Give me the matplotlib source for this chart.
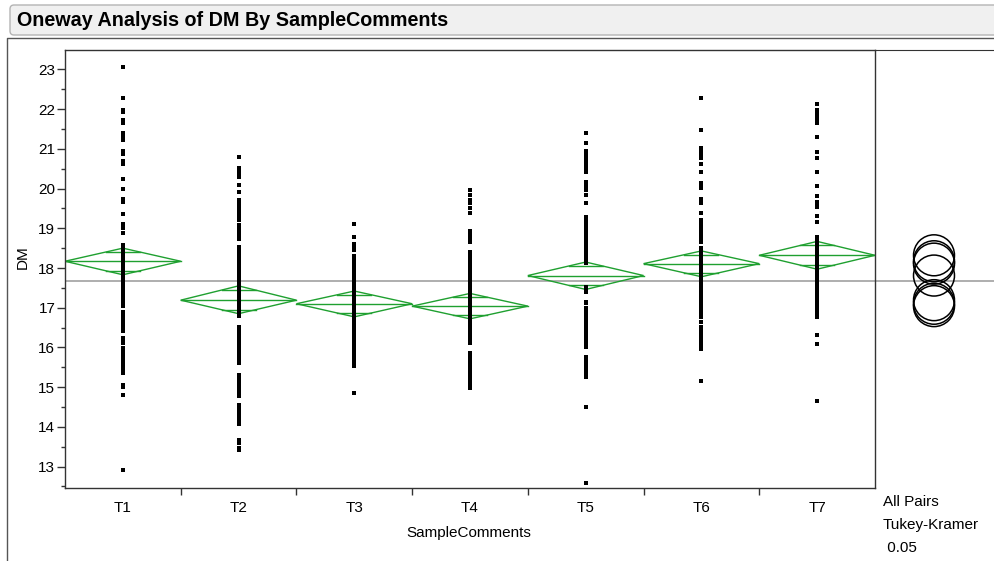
import matplotlib
matplotlib.use("Agg")
import numpy as np
import matplotlib.pyplot as plt
from matplotlib.patches import FancyBboxPatch, Polygon
from matplotlib.lines import Line2D
from matplotlib.ticker import MultipleLocator
from matplotlib.transforms import IdentityTransform

plt.rcParams['font.family'] = ['Liberation Sans', 'DejaVu Sans']

# ---- data ----
categories = ['T1', 'T2', 'T3', 'T4', 'T5', 'T6', 'T7']

t1 = [23.05, 22.29, 21.99, 21.93, 21.72, 21.66, 21.39, 21.30, 21.22, 20.95, 20.87,
      20.69, 20.61, 20.24, 19.98, 19.74, 19.67, 19.36, 19.11, 19.00, 18.87,
      18.58, 18.51, 18.44, 18.37, 18.30, 18.23, 18.16, 18.09, 18.02, 17.95, 17.88,
      17.81, 17.74, 17.67, 17.60, 17.53, 17.46, 17.39, 17.32, 17.25, 17.18, 17.11,
      17.04, 16.90, 16.83, 16.76, 16.69, 16.62, 16.55, 16.48, 16.41, 16.23, 16.16,
      16.10, 15.98, 15.91, 15.84, 15.77, 15.70, 15.63, 15.56, 15.49, 15.42, 15.35,
      15.06, 15.01, 14.80, 12.92]
t2 = [20.79, 20.51, 20.45, 20.40, 20.30, 20.09, 19.92, 19.71, 19.64, 19.57, 19.50,
      19.43, 19.36, 19.29, 19.22, 19.08, 19.01, 18.94, 18.87, 18.80, 18.73,
      18.54, 18.47, 18.40, 18.33, 18.26, 18.19, 18.12, 18.05, 17.98, 17.91, 17.84,
      17.77, 17.70, 17.63, 17.56, 17.49, 17.42, 17.35, 17.28, 17.21, 17.14, 17.07,
      17.00, 16.93, 16.86, 16.79, 16.52, 16.45, 16.38, 16.31, 16.24, 16.17, 16.10,
      16.03, 15.96, 15.89, 15.82, 15.75, 15.68, 15.61, 15.31, 15.24, 15.17, 15.10,
      15.01, 14.93, 14.85, 14.77, 14.55, 14.48, 14.41, 14.34, 14.27, 14.20, 14.13,
      14.06, 13.67, 13.59, 13.46, 13.42]
t3 = [19.11, 18.79, 18.60, 18.52, 18.45, 18.30, 18.23, 18.16, 18.09, 18.02, 17.95,
      17.88, 17.81, 17.74, 17.67, 17.60, 17.53, 17.46, 17.39, 17.32, 17.25, 17.18,
      17.11, 17.04, 16.97, 16.90, 16.83, 16.76, 16.69, 16.62, 16.55, 16.48, 16.41,
      16.34, 16.27, 16.20, 16.13, 16.06, 15.99, 15.92, 15.85, 15.78, 15.71, 15.64,
      15.57, 15.52, 14.85]
t4 = [19.96, 19.84, 19.71, 19.63, 19.50, 19.39, 18.94, 18.87, 18.80, 18.73, 18.66,
      18.41, 18.34, 18.27, 18.20, 18.13, 18.06, 17.99, 17.92, 17.85, 17.78, 17.71,
      17.64, 17.57, 17.50, 17.43, 17.36, 17.29, 17.22, 17.15, 17.08, 17.01, 16.94,
      16.87, 16.80, 16.73, 16.66, 16.59, 16.52, 16.45, 16.38, 16.31, 16.24, 16.17,
      16.10, 15.87, 15.80, 15.73, 15.66, 15.59, 15.52, 15.45, 15.38, 15.31, 15.24,
      15.17, 15.10, 15.03, 14.97]
t5 = [21.40, 21.14, 20.95, 20.88, 20.81, 20.74, 20.67, 20.60, 20.53, 20.46, 20.42,
      20.17, 20.10, 20.03, 19.96, 19.84, 19.63, 19.29, 19.22, 19.15, 19.08, 19.01,
      18.94, 18.87, 18.80, 18.73, 18.66, 18.59, 18.52, 18.45, 18.38, 18.31, 18.24,
      18.17, 18.12, 17.53, 17.46, 17.40, 17.15, 17.11, 16.99, 16.94, 16.84, 16.77,
      16.70, 16.63, 16.56, 16.49, 16.42, 16.35, 16.28, 16.21, 16.14, 16.07, 16.00,
      15.77, 15.70, 15.63, 15.56, 15.48, 15.41, 15.34, 15.26, 14.49, 12.58]
t6 = [22.29, 21.47, 21.01, 20.94, 20.87, 20.80, 20.76, 20.63, 20.42, 20.13, 20.06,
      20.01, 19.75, 19.68, 19.63, 19.38, 19.21, 19.14, 19.07, 19.00, 18.93, 18.86,
      18.79, 18.72, 18.65, 18.50, 18.43, 18.36, 18.29, 18.22, 18.15, 18.08, 18.01,
      17.94, 17.87, 17.80, 17.73, 17.66, 17.59, 17.52, 17.45, 17.38, 17.31, 17.24,
      17.17, 17.10, 17.03, 16.96, 16.89, 16.82, 16.77, 16.65, 16.52, 16.45, 16.38,
      16.31, 16.24, 16.17, 16.10, 16.03, 15.96, 15.16]
t7 = [22.13, 21.98, 21.91, 21.84, 21.77, 21.70, 21.64, 21.29, 20.93, 20.76, 20.42,
      20.06, 19.81, 19.67, 19.60, 19.54, 19.32, 19.15, 18.79, 18.72, 18.65, 18.58,
      18.51, 18.44, 18.37, 18.30, 18.23, 18.16, 18.09, 18.02, 17.95, 17.88, 17.81,
      17.74, 17.67, 17.60, 17.53, 17.46, 17.39, 17.32, 17.25, 17.18, 17.11, 17.04,
      16.97, 16.90, 16.83, 16.77, 16.31, 16.09, 14.65]
groups = [t1, t2, t3, t4, t5, t6, t7]

means = [18.17, 17.19, 17.10, 17.04, 17.81, 18.11, 18.32]
ci_hi = [18.50, 17.55, 17.42, 17.36, 18.15, 18.43, 18.67]
ci_lo = [17.83, 16.85, 16.77, 16.72, 17.46, 17.78, 17.97]
grand_mean = 17.67

W, H = 995, 561
green = '#1fa030'
axcol = '#333333'


def box(x0, y0, x1, y1):
    # pixel box (top-down) -> figure rect
    return [x0 / W, 1 - y1 / H, (x1 - x0) / W, (y1 - y0) / H]


fig = plt.figure(figsize=(W / 100, H / 100), dpi=100)

# title bar and outer frame
bar = FancyBboxPatch((10, H - 35), 1100, 30, boxstyle="round,pad=0,rounding_size=4",
                     fc='#f0f0f0', ec='#b4b4b4', lw=1, transform=IdentityTransform())
fig.add_artist(bar)
fig.text(17 / W, 1 - 20 / H, 'Oneway Analysis of DM By SampleComments',
         fontsize=14.2, fontweight='bold', va='center', ha='left')
fig.add_artist(Line2D([7, 7, 1100], [0, H - 38, H - 38], color='#555555', lw=1,
                      transform=IdentityTransform()))

axr = fig.add_axes(box(875, 50, 1010, 488))
ax = fig.add_axes(box(65, 50, 875, 488))
ax.patch.set_visible(False)

for i, vals in enumerate(groups):
    m, hi, lo = means[i], ci_hi[i], ci_lo[i]
    ax.add_patch(Polygon([(i - 0.5, m), (i, hi), (i + 0.5, m), (i, lo)], closed=True,
                         fill=False, ec=green, lw=1, zorder=2))
    ax.plot([i - 0.5, i + 0.5], [m, m], color=green, lw=1, zorder=2)
    hw = 0.5 * (1 - 1 / np.sqrt(2))
    for y in (m + (hi - m) / np.sqrt(2), m - (m - lo) / np.sqrt(2)):
        ax.plot([i - hw, i + hw], [y, y], color=green, lw=1, zorder=2)
    ax.plot(np.full(len(vals), i), vals, 's', color='black', ms=3.4, mew=0, zorder=3)

ax.axhline(grand_mean, color='#999999', lw=1.1, zorder=1)
axr.axhline(grand_mean, color='#999999', lw=1.1, zorder=1)

ax.set_xlim(-0.5, 6.5)
ax.set_ylim(12.46, 23.49)
ax.set_yticks(range(13, 24))
ax.yaxis.set_minor_locator(MultipleLocator(0.5))
ax.tick_params(axis='y', which='major', length=6, width=1, color=axcol, labelsize=11, pad=1)
ax.tick_params(axis='y', which='minor', length=3, width=1, color=axcol)
ax.set_xticks([0.5, 1.5, 2.5, 3.5, 4.5, 5.5])
ax.set_xticklabels([])
ax.set_xticks(range(len(categories)), minor=True)
ax.set_xticklabels(categories, minor=True)
ax.tick_params(axis='x', which='major', length=5, width=1, color=axcol)
ax.tick_params(axis='x', which='minor', length=0, labelsize=11, pad=9.5)
for s in ax.spines.values():
    s.set_color(axcol)
    s.set_linewidth(1)

fig.text(23 / W, 1 - 257 / H, 'DM', rotation=90, fontsize=11, va='center', ha='center')
fig.text(469 / W, 1 - 537 / H, 'SampleComments', fontsize=11, va='baseline', ha='center')

# comparison circles
axr.set_xlim(0, 1)
axr.set_ylim(ax.get_ylim())
axr.scatter(np.full(len(means), (934 - 875) / 135), means, s=870, facecolors='none',
            edgecolors='black', linewidths=1.1, zorder=3)
for k in ('left', 'right', 'bottom'):
    axr.spines[k].set_visible(False)
axr.spines['top'].set_color(axcol)
axr.set_xticks([])
axr.set_yticks([])

fig.text(883 / W, 1 - 506 / H, 'All Pairs', fontsize=11, va='baseline')
fig.text(883 / W, 1 - 528.5 / H, 'Tukey-Kramer', fontsize=11, va='baseline')
fig.text(883 / W, 1 - 551.5 / H, ' 0.05', fontsize=11, va='baseline')

fig.savefig('out.png', dpi=100)
